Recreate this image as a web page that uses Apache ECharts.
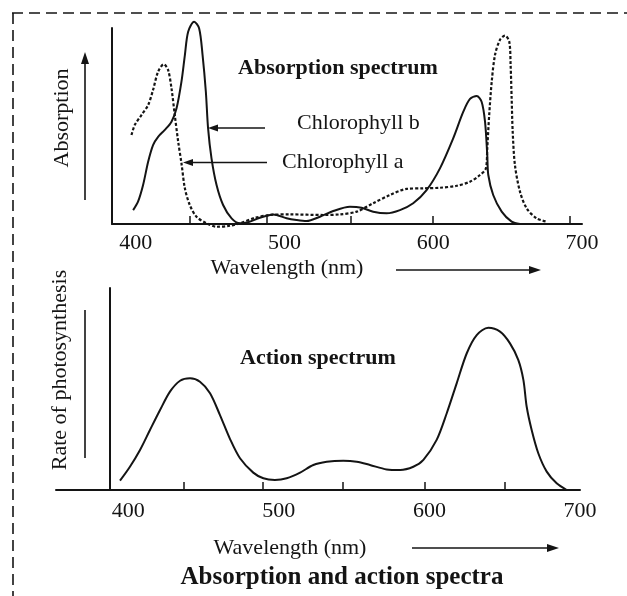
<!DOCTYPE html>
<html>
<head>
<meta charset="utf-8">
<script src="https://cdn.jsdelivr.net/npm/echarts@6/dist/echarts.min.js"></script>
<style>
html,body{margin:0;padding:0;background:#fff;}
#chart{width:627px;height:596px;}
</style>
</head>
<body>
<div id="chart"></div>
<script>
// ---- data ----
const xTickLabels = [400, 500, 600, 700];
const topTickMarks = [436.4, 488.2, 544.7, 599.8, 691.9];
const bottomTickMarks = [437.0, 489.5, 542.6, 597.1, 650.2];

// Chlorophyll b (solid), [wavelength nm, relative absorption]
const chlorophyllB = [
  [398.2,7.1],[401.5,11.4],[404.9,19.9],[408.3,31.8],[411.6,40.3],[415.0,44.5],[419.5,48.0],
  [424.0,52.2],[427.4,59.0],[430.7,72.6],[433.0,86.2],[435.2,98.1],[439.2,103.2],[442.6,99.8],
  [444.9,86.2],[447.1,67.5],[448.6,48.8],[450.9,33.5],[454.3,19.9],[458.7,9.7],[464.4,2.9],
  [470.0,0.4],[475.5,0.9],[483.4,3.2],[492.4,4.9],[501.4,2.9],[508.1,2.0],[514.8,1.5],
  [523.8,3.7],[532.7,6.6],[543.9,8.8],[551.8,8.3],[559.6,6.3],[568.6,5.5],[577.6,7.1],
  [586.5,10.6],[595.5,17.3],[604.5,28.4],[613.4,43.7],[620.2,57.3],[624.7,63.8],[629.2,65.3],
  [632.5,62.4],[634.8,52.2],[636.3,35.2],[637.0,25.0],[640.3,14.8],[646.0,6.3],[652.7,1.2],
  [658.3,0]
];

// Chlorophyll a (dotted)
const chlorophyllA = [
  [397.1,45.4],[399.3,50.5],[403.8,55.6],[408.3,60.7],[411.6,68.4],[415.0,77.7],[418.8,81.5],
  [421.7,78.6],[424.0,69.2],[426.2,55.6],[428.5,42.0],[430.7,31.0],[433.0,18.2],[436.3,9.7],
  [440.8,3.7],[447.6,0.4],[454.3,-1.4],[463.2,-0.9],[470.0,0.4],[480.0,3.1],[490.1,4.6],
  [503.6,4.9],[526.0,4.6],[537.2,4.9],[548.5,6.3],[559.6,10.6],[570.9,14.8],[582.1,17.9],
  [593.2,18.2],[604.5,18.5],[615.7,19.5],[624.7,21.6],[631.4,25.0],[635.4,28.4],[636.3,38.6],
  [637.6,55.6],[639.3,72.6],[641.5,86.2],[644.8,93.9],[648.2,96.1],[651.1,93.0],[652.0,81.1],
  [652.7,64.1],[653.4,47.1],[654.9,30.1],[658.3,16.5],[662.8,8.0],[669.5,2.9],[676.3,1.2]
];

// Action spectrum (rate of photosynthesis)
const actionSpectrum = [
  [394.5,4.6],[401.1,11.5],[407.8,19.8],[414.4,29.7],[421.1,39.6],[427.7,48.7],[434.4,54.1],
  [441.0,55.3],[447.6,53.6],[454.3,47.9],[460.9,37.1],[467.6,25.2],[474.2,15.7],[483.0,8.6],
  [489.7,5.8],[497.4,5.0],[505.2,5.8],[514.1,8.6],[522.9,12.4],[531.8,14.0],[542.8,14.5],
  [551.7,14.0],[560.5,12.4],[571.6,10.2],[580.5,9.9],[589.3,11.5],[596.0,14.9],[604.8,24.8],
  [611.5,38.0],[618.1,52.8],[624.8,67.7],[631.4,76.7],[639.1,80.3],[646.9,78.4],[653.5,72.6],
  [659.0,64.4],[662.4,54.5],[664.6,41.2],[667.9,29.7],[672.3,18.2],[677.9,9.1],[684.5,3.3],
  [691.2,0]
];

// ---- chart ----
const INK = '#141414';
const SERIF = '"Liberation Serif", "DejaVu Serif", serif';

function xAxisCfg(grid, min, max, ticks, margin) {
  return {
    type: 'value', gridIndex: grid, min: min, max: max,
    axisLine: { show: true, onZero: false, lineStyle: { color: INK, width: 2 } },
    axisTick: { show: true, inside: true, length: 8, customValues: ticks,
                lineStyle: { color: INK, width: 1.5 } },
    axisLabel: { show: true, customValues: xTickLabels, margin: margin,
                 color: INK, fontSize: 22, fontFamily: SERIF },
    splitLine: { show: false }
  };
}
function yAxisCfg(grid, offset) {
  return {
    type: 'value', gridIndex: grid, min: 0, max: 100, offset: offset,
    axisLine: { show: true, onZero: false, lineStyle: { color: INK, width: 2 } },
    axisTick: { show: false }, axisLabel: { show: false }, splitLine: { show: false }
  };
}
function txt(x, y, text, font, align, rot) {
  return { type: 'text', x: x, y: y, rotation: rot || 0, silent: true,
    style: { text: text, font: font, fill: INK, align: align || 'center', verticalAlign: 'middle',
             textAlign: align || 'center', textVerticalAlign: 'middle' } };
}
function seg(x1, y1, x2, y2, w, dash) {
  return { type: 'line', silent: true,
    shape: { x1: x1, y1: y1, x2: x2, y2: y2 },
    style: { stroke: INK, lineWidth: w || 1.5, lineDash: dash || null } };
}
function head(points) {
  return { type: 'polygon', silent: true, shape: { points: points }, style: { fill: INK } };
}

const chart = echarts.init(document.getElementById('chart'), null, { renderer: 'canvas' });
chart.setOption({
  backgroundColor: '#ffffff',
  animation: false,
  grid: [
    { left: 112, top: 28, width: 470, height: 196 },
    { left: 56, top: 288, width: 524, height: 202 }
  ],
  xAxis: [
    xAxisCfg(0, 384, 700, topTickMarks, 8),
    xAxisCfg(1, 352, 700, bottomTickMarks, 10)
  ],
  yAxis: [
    yAxisCfg(0, 0),
    yAxisCfg(1, -54)
  ],
  series: [
    { name: 'Chlorophyll b', type: 'line', xAxisIndex: 0, yAxisIndex: 0, data: chlorophyllB,
      smooth: 0.3, showSymbol: false, clip: false,
      lineStyle: { color: INK, width: 2 } },
    { name: 'Chlorophyll a', type: 'line', xAxisIndex: 0, yAxisIndex: 0, data: chlorophyllA,
      smooth: 0.3, showSymbol: false, clip: false,
      lineStyle: { color: INK, width: 2.2, type: [3, 2] } },
    { name: 'Action spectrum', type: 'line', xAxisIndex: 1, yAxisIndex: 1, data: actionSpectrum,
      smooth: 0.3, showSymbol: false, clip: false,
      lineStyle: { color: INK, width: 2 } }
  ],
  graphic: [
    // dashed frame
    seg(12, 13, 627, 13, 1.6, [11, 6]),
    seg(13, 13, 13, 596, 1.6, [11, 6]),
    // top panel texts
    txt(338, 68, 'Absorption spectrum', 'bold 22px ' + SERIF),
    txt(297, 123, 'Chlorophyll b', '22px ' + SERIF, 'left'),
    txt(282, 162, 'Chlorophyll a', '22px ' + SERIF, 'left'),
    seg(265, 128, 215, 128, 1.6), head([[208, 128], [218, 124.5], [218, 131.5]]),
    seg(267, 162.5, 190, 162.5, 1.6), head([[183, 162.5], [193, 159], [193, 166]]),
    txt(62, 118, 'Absorption', '22px ' + SERIF, 'center', Math.PI / 2),
    seg(85, 200, 85, 62, 1.6), head([[85, 52], [81, 64], [89, 64]]),
    txt(287, 268, 'Wavelength (nm)', '22px ' + SERIF),
    seg(396, 270, 531, 270, 1.6), head([[541, 270], [529, 266], [529, 274]]),
    // bottom panel texts
    txt(318, 358, 'Action spectrum', 'bold 22px ' + SERIF),
    txt(60, 370, 'Rate of photosynthesis', '22px ' + SERIF, 'center', Math.PI / 2),
    seg(85, 310, 85, 458, 1.6),
    txt(290, 548, 'Wavelength (nm)', '22px ' + SERIF),
    seg(412, 548, 549, 548, 1.6), head([[559, 548], [547, 544], [547, 552]]),
    txt(342, 578, 'Absorption and action spectra', 'bold 25px ' + SERIF)
  ]
});
</script>
</body>
</html>
